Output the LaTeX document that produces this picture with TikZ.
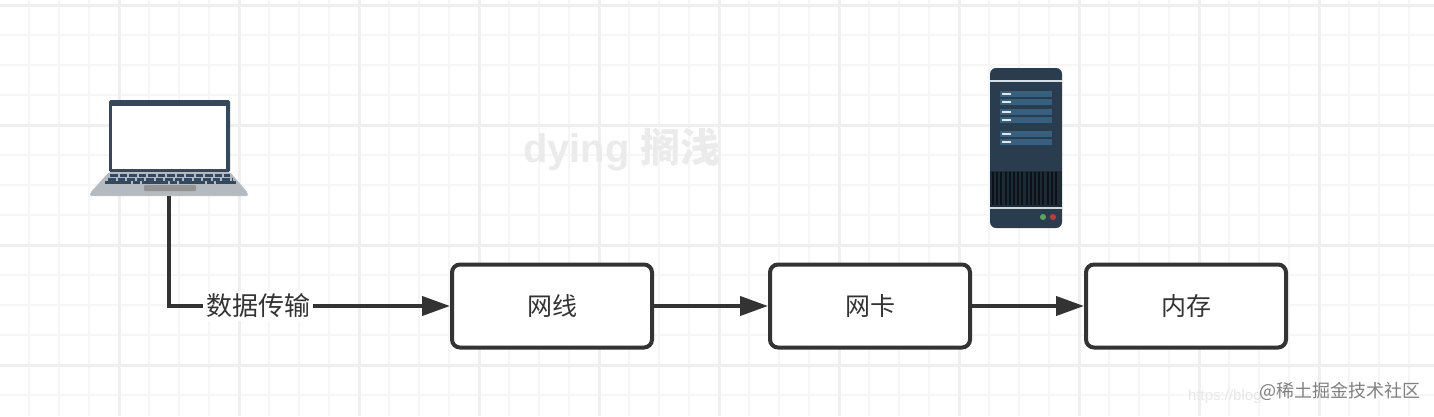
\documentclass[tikz,border=0pt]{standalone}
\usepackage{fontspec}
\setmainfont{Liberation Sans}
\newfontfamily\cjk{Noto Sans CJK SC}
\usetikzlibrary{arrows.meta}

\definecolor{gridminor}{HTML}{F6F6F6}
\definecolor{gridmajor}{HTML}{EFEFEF}
\definecolor{wirecolor}{HTML}{333333}
\definecolor{lidcolor}{HTML}{34495E}
\definecolor{basecolor}{HTML}{B4BBC0}
\definecolor{towercolor}{HTML}{2A3D4E}
\definecolor{slotcolor}{HTML}{37607F}

\begin{document}
\begin{tikzpicture}[x=1pt,y=-1pt,
    block/.style ={draw=wirecolor, line width=4pt, rounded corners=8pt, fill=white,
       minimum width=200pt, minimum height=83pt, inner sep=0pt, font=\cjk\fontsize{25}{30}\selectfont, text=wirecolor},
    wire/.style ={draw=wirecolor, line width=4pt, -{Triangle[length=28pt,width=19pt]}},
    gridline/.style ={gridminor, line width=2pt},
    gridbold/.style ={gridmajor, line width=3pt}]
   \useasboundingbox (0,0) rectangle (1434,416);
   \fill[white] (0,0) rectangle (1434,416);
   % grid
   \foreach \x in {29,59,...,1434} \draw[gridline] (\x,0) -- (\x,416);
   \foreach \y in {35,65,...,416} \draw[gridline] (0,\y) -- (1434,\y);
   \foreach \x in {119,239,...,1434} \draw[gridbold] (\x,0) -- (\x,416);
   \foreach \y in {5,125,245,365} \draw[gridbold] (0,\y) -- (1434,\y);
   % watermarks
   \node[text=black!8, font=\bfseries\fontsize{40}{46}\selectfont, inner sep=0pt] (mark) at (622,149) {dying {\cjk\bfseries 搁浅}};
   \node[text=black!9, font=\fontsize{15}{18}\selectfont, anchor=west, inner sep=0pt] (blog) at (1188,397) {https://blog};
   \node[text=black!50, font=\cjk\fontsize{18}{22}\selectfont] (juejin) at (1340,391) {@稀土掘金技术社区};
   % laptop
   \node[inner sep=0pt, minimum width=158pt, minimum height=97pt] (laptop) at (168.5,147.5) {};
   \fill[lidcolor, rounded corners=1.5pt] (109,100) rectangle (230,172);
   \fill[white] (112,106) rectangle (226,169);
   \fill[basecolor, rounded corners=2pt] (109,172) -- (230,172) -- (248,193) -- (248,196) -- (90,196) -- (90,193) -- cycle;
   \foreach \y/\xa/\xb in {175.5/110/230,179/108/232} \draw[lidcolor, line width=3pt, dash pattern=on 7.5pt off 2pt] (\xa,\y) -- (\xb,\y);
   \draw[lidcolor, line width=2.5pt, dash pattern=on 26pt off 2pt on 7pt off 2pt] (105,182.5) -- (236,182.5);
   \fill[gray!85, rounded corners=1pt] (144,185) rectangle (196,191);
   \draw[white!75!black, line width=1pt] (91,195) -- (247,195);
   % server
   \fill[towercolor, rounded corners=6pt] (990,68) rectangle (1062,228);
   \draw[white!80!slotcolor, line width=2pt] (990,81) -- (1062,81);
   \foreach \y in {91,99,109,117,131,139} {
     \fill[slotcolor] (1000,\y) rectangle (1052,\y+6);
     \draw[white!85!slotcolor, line width=1.5pt] (1002,\y+3) -- (1011,\y+3);
   }
   \fill[towercolor!70!black] (990,171) rectangle (1062,208);
   \foreach \x in {993,997.2,...,1058} \draw[black!70!towercolor, line width=2pt] (\x,172) -- (\x,205);
   \draw[white!75!slotcolor, line width=2pt] (990,208) -- (1062,208);
   \fill[green!35!gray] (1043,217) circle (3);
   \fill[red!55!gray] (1053,217) circle (3);
   % boxes
   \node[block] (net) at (552,306) {网线};
   \node[block] (card) at (870,306) {网卡};
   \node[block] (mem) at (1186,306) {内存};
   \draw[wire] (laptop.south) |- (net.west) node[pos=0.659, fill=white, inner sep=3pt, text=wirecolor, font=\cjk\fontsize{26}{30}\selectfont] (lbl) {数据传输};
   \draw[wire] (net) -- (card);
   \draw[wire] (card) -- (mem);
 \end{tikzpicture}
\end{document}
